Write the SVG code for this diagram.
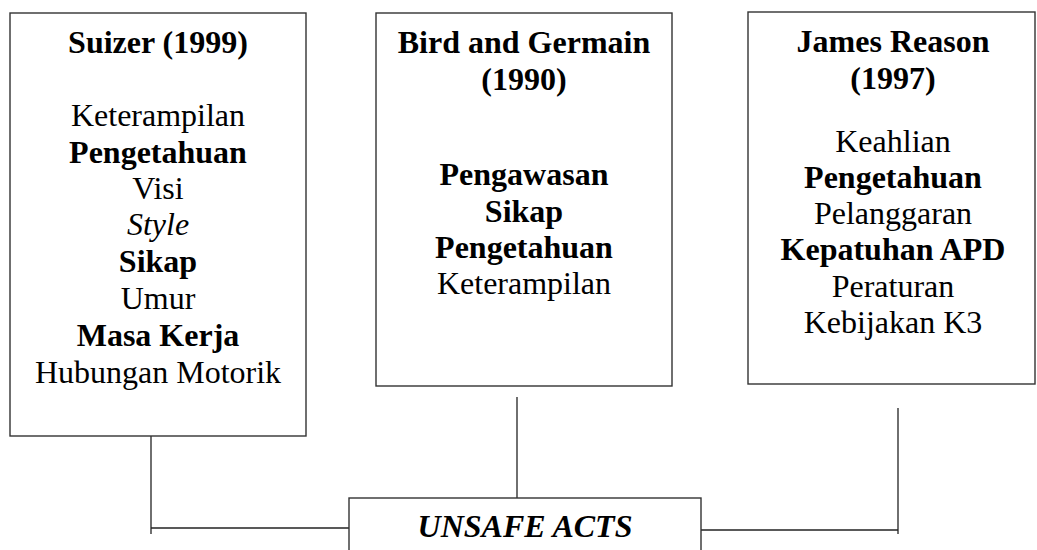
<svg xmlns="http://www.w3.org/2000/svg" width="1037" height="550" viewBox="0 0 1037 550">
<style>
.box{fill:#fff;stroke:#333;stroke-width:1.4}
.ln{stroke:#222;stroke-width:1.3;fill:none}
text{font-family:"Liberation Serif","Times New Roman",serif;font-size:32px;fill:#000;text-anchor:middle}
.b{font-weight:bold}
.i{font-style:italic}
</style>
<rect width="1037" height="550" fill="#fff"/>
<g id="connectors">
<polyline class="ln" points="151,436 151,534"/>
<polyline class="ln" points="151,528 349,528"/>
<polyline class="ln" points="517,397 517,503"/>
<polyline class="ln" points="898,408 898,534"/>
<polyline class="ln" points="701,530 898,530"/>
</g>
<g id="suizer">
<rect class="box" x="10" y="13" width="296" height="423"/>
<text class="b" x="158" y="53">Suizer (1999)</text>
<text x="158" y="126">Keterampilan</text>
<text class="b" x="158" y="163">Pengetahuan</text>
<text x="158" y="199">Visi</text>
<text class="i" x="158" y="235">Style</text>
<text class="b" x="158" y="272">Sikap</text>
<text x="158" y="309">Umur</text>
<text class="b" x="158" y="346">Masa Kerja</text>
<text x="158" y="383">Hubungan Motorik</text>
</g>
<g id="bird">
<rect class="box" x="376" y="13" width="296" height="373"/>
<text class="b" x="524" y="53">Bird and Germain</text>
<text class="b" x="524" y="90">(1990)</text>
<text class="b" x="524" y="185">Pengawasan</text>
<text class="b" x="524" y="222">Sikap</text>
<text class="b" x="524" y="258">Pengetahuan</text>
<text x="524" y="294">Keterampilan</text>
</g>
<g id="reason">
<rect class="box" x="748" y="12" width="287" height="372"/>
<text class="b" x="893" y="52">James Reason</text>
<text class="b" x="893" y="89">(1997)</text>
<text x="893" y="152">Keahlian</text>
<text class="b" x="893" y="188">Pengetahuan</text>
<text x="893" y="224">Pelanggaran</text>
<text class="b" x="893" y="260">Kepatuhan APD</text>
<text x="893" y="297">Peraturan</text>
<text x="893" y="333">Kebijakan K3</text>
</g>
<g id="unsafe">
<rect class="box" x="349" y="498" width="352" height="70"/>
<text class="b i" x="525" y="537">UNSAFE ACTS</text>
</g>
</svg>
